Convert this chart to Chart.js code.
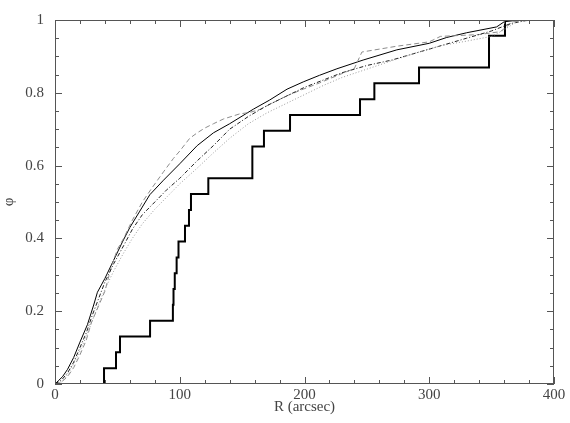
<!DOCTYPE html>
<html>
<head>
<meta charset="utf-8">
<script src="https://cdn.jsdelivr.net/npm/chart.js@4"></script>
<style>
  html, body { margin: 0; padding: 0; background: #fff; }
</style>
</head>
<body>
<canvas id="cdfChart" width="570" height="423"></canvas>
<script>
// thick step: cumulative fraction of the 23-object sample
const stepR   = [0, 39.3, 48.9, 52.1, 76.2, 94.5, 95.0, 96.0, 97.5, 99.0, 104.2, 107.4, 109.0, 122.9, 158.2, 167.5, 188.4, 244.5, 256.0, 291.8, 347.9, 360.7, 400];
const stepPhi = [0, 1, 2, 3, 4, 5, 6, 7, 8, 9, 10, 11, 12, 13, 15, 16, 17, 18, 19, 20, 22, 23, 23].map(function (n) { return n / 23; });

// thin solid black
const solidR   = [0, 3, 6, 10, 15, 20, 26, 31, 34, 40, 47, 54, 60, 68, 76, 87, 100, 114, 127, 140, 159, 172, 186, 199, 212, 226, 247, 274, 300, 314, 330, 354, 360, 372, 400];
const solidPhi = [0, 0.01, 0.02, 0.04, 0.073, 0.115, 0.163, 0.217, 0.252, 0.29, 0.34, 0.39, 0.43, 0.475, 0.52, 0.56, 0.605, 0.655, 0.69, 0.715, 0.755, 0.78, 0.81, 0.83, 0.848, 0.866, 0.89, 0.918, 0.936, 0.952, 0.965, 0.981, 0.995, 1, 1];

// grey dashed
const dashR   = [0, 5, 10, 15, 20, 25, 29, 35, 40, 45, 50, 55, 62, 70, 78, 87, 95, 100, 108, 114, 120, 127, 135, 148, 156, 165, 172, 186, 199, 212, 226, 240, 246, 274, 300, 309, 340, 357, 367, 380, 400];
const dashPhi = [0, 0.005, 0.02, 0.045, 0.08, 0.12, 0.167, 0.215, 0.255, 0.32, 0.37, 0.40, 0.45, 0.50, 0.54, 0.583, 0.62, 0.64, 0.675, 0.69, 0.703, 0.715, 0.728, 0.742, 0.746, 0.755, 0.768, 0.792, 0.81, 0.827, 0.847, 0.867, 0.912, 0.928, 0.94, 0.955, 0.96, 0.968, 0.995, 1, 1];

// black dash-dot
const dotBlackR   = [0, 5, 10, 15, 20, 25, 30, 35, 40, 47, 55, 62, 70, 80, 90, 100, 113, 127, 140, 155, 170, 185, 200, 215, 230, 250, 270, 290, 310, 330, 350, 365, 380, 400];
const dotBlackPhi = [0, 0.01, 0.03, 0.06, 0.10, 0.14, 0.19, 0.235, 0.28, 0.33, 0.38, 0.425, 0.465, 0.50, 0.535, 0.565, 0.61, 0.655, 0.70, 0.735, 0.765, 0.79, 0.815, 0.835, 0.855, 0.875, 0.89, 0.91, 0.93, 0.95, 0.97, 0.99, 1, 1];

// grey dotted
const dotGreyR   = [0, 5, 10, 15, 20, 25, 30, 35, 40, 47, 55, 62, 70, 80, 90, 100, 113, 127, 140, 155, 170, 185, 200, 215, 230, 250, 270, 290, 310, 330, 350, 360, 370, 385, 400];
const dotGreyPhi = [0, 0.005, 0.025, 0.055, 0.09, 0.13, 0.175, 0.22, 0.26, 0.31, 0.36, 0.40, 0.44, 0.48, 0.515, 0.55, 0.59, 0.635, 0.675, 0.715, 0.745, 0.77, 0.795, 0.82, 0.842, 0.865, 0.888, 0.91, 0.93, 0.942, 0.955, 0.973, 0.995, 1, 1];

const xMajor = 100, xMinor = 20;
const yMajor = 0.2, yMinor = 0.05;

function pts(xs, ys) {
    return xs.map(function (x, i) { return { x: x, y: ys[i] }; });
}

// frame + inward ticks on all four sides, PGPLOT style
const frameTicks = {
    id: 'frameTicks',
    afterDatasetsDraw: function (chart) {
        const ctx = chart.ctx;
        const a = chart.chartArea;
        const xs = chart.scales.x, ys = chart.scales.y;
        ctx.save();
        ctx.setLineDash([]);
        ctx.strokeStyle = '#555';
        ctx.lineWidth = 1;
        ctx.strokeRect(a.left + 0.5, a.top + 0.5, a.right - a.left - 1, a.bottom - a.top - 1);
        ctx.beginPath();
        for (let k = 0; k <= 20; k++) {
            const px = Math.round(xs.getPixelForValue(k * xMinor)) + 0.5;
            const len = k % 5 === 0 ? 7 : 4;
            ctx.moveTo(px, a.bottom); ctx.lineTo(px, a.bottom - len);
            ctx.moveTo(px, a.top); ctx.lineTo(px, a.top + len);
        }
        for (let k = 0; k <= 20; k++) {
            const py = Math.round(ys.getPixelForValue(k * yMinor)) + 0.5;
            const len = k % 4 === 0 ? 7 : 4;
            ctx.moveTo(a.left, py); ctx.lineTo(a.left + len, py);
            ctx.moveTo(a.right, py); ctx.lineTo(a.right - len, py);
        }
        ctx.stroke();
        ctx.restore();
    }
};

const tickFont = { family: 'Liberation Serif', size: 15 };

new Chart(document.getElementById('cdfChart').getContext('2d'), {
    type: 'line',
    data: {
        datasets: [
            { data: pts(dotGreyR, dotGreyPhi), borderColor: '#9a9a9a', borderWidth: 1, borderDash: [1, 2] },
            { data: pts(dotBlackR, dotBlackPhi), borderColor: '#222', borderWidth: 1, borderDash: [4, 2, 1, 2] },
            { data: pts(dashR, dashPhi), borderColor: '#8c8c8c', borderWidth: 1, borderDash: [5, 3] },
            { data: pts(solidR, solidPhi), borderColor: '#000', borderWidth: 1 },
            { data: pts(stepR, stepPhi), borderColor: '#000', borderWidth: 2, stepped: true }
        ]
    },
    options: {
        responsive: false,
        animation: false,
        devicePixelRatio: 1,
        layout: { padding: { left: 0, right: 16, top: 11, bottom: 0 } },
        elements: { point: { radius: 0 }, line: { tension: 0, fill: false } },
        plugins: { legend: { display: false }, tooltip: { enabled: false } },
        scales: {
            x: {
                type: 'linear', min: 0, max: 400,
                border: { display: false },
                grid: { display: false, drawTicks: false },
                ticks: { stepSize: xMajor, padding: 2, color: '#444', font: tickFont, maxRotation: 0 },
                title: { display: true, text: 'R (arcsec)', color: '#444', font: tickFont, padding: { top: 0, bottom: 7 } },
                afterFit: function (s) { s.height = 39; }
            },
            y: {
                min: 0, max: 1,
                border: { display: false },
                grid: { display: false, drawTicks: false },
                ticks: {
                    stepSize: yMajor, padding: 11, color: '#444', font: tickFont,
                    callback: function (v) { return String(Math.round(v * 10) / 10); }
                },
                title: { display: true, text: 'φ', color: '#444', font: tickFont, padding: { top: 0, bottom: 0 } },
                afterFit: function (s) { s.width = 55; }
            }
        }
    },
    plugins: [frameTicks]
});
</script>
</body>
</html>
